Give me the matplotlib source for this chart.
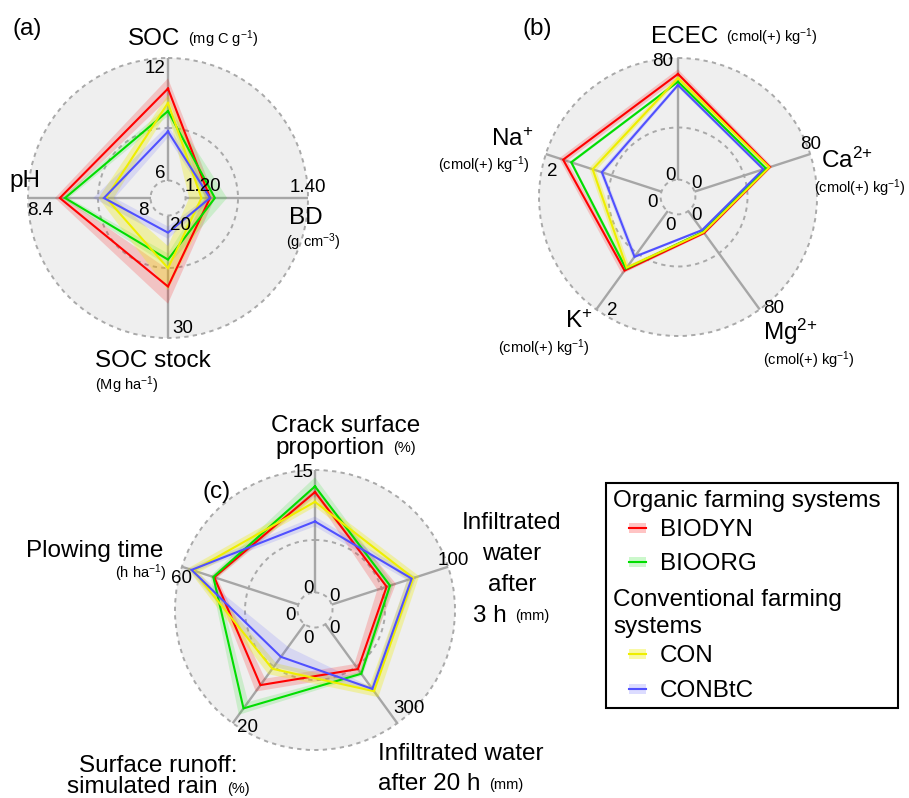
import numpy as np
import matplotlib.pyplot as plt
from matplotlib.patches import Circle, PathPatch, Rectangle
from matplotlib.path import Path

plt.rcParams['font.family'] = ['Liberation Sans', 'DejaVu Sans']
plt.rcParams['mathtext.fontset'] = 'custom'
plt.rcParams['mathtext.rm'] = 'Liberation Sans'
plt.rcParams['mathtext.default'] = 'regular'

# farming systems and their colours
systems = ["BIODYN", "BIOORG", "CON", "CONBtC"]
colors = ["#ff0000", "#00dd00", "#eeee00", "#5050ff"]
band_alpha = [0.18, 0.15, 0.3, 0.15]

# panel (a): SOC, BD, SOC stock, pH
a_angles = [90, 0, -90, 180]
a_vmin = [6, 1.20, 20, 8.0]
a_vmax = [12, 1.40, 30, 8.4]
a_vals = {
    "BIODYN": [10.5, 1.240, 25.8, 8.296],
    "BIOORG": [9.4, 1.248, 23.6, 8.279],
    "CON":    [9.8, 1.226, 24.3, 8.145],
    "CONBtC": [8.4, 1.240, 21.4, 8.152],
}
a_err = {
    "BIODYN": [0.5, 0.008, 1.4, 0.016],
    "BIOORG": [0.25, 0.02, 0.5, 0.013],
    "CON":    [0.4, 0.02, 1.8, 0.025],
    "CONBtC": [0.3, 0.006, 0.5, 0.035],
}

# panel (b): ECEC, Ca2+, Mg2+, K+, Na+
b_angles = [90, 18, -54, -126, 162]
b_vmin = [0, 0, 0, 0, 0]
b_vmax = [80, 80, 80, 2, 2]
b_vals = {
    "BIODYN": [69.5, 52.2, 17.8, 1.21, 1.70],
    "BIOORG": [64.4, 49.4, 16.8, 1.17, 1.56],
    "CON":    [66.7, 51.7, 17.2, 1.15, 1.19],
    "CONBtC": [62.2, 47.6, 15.5, 0.93, 1.03],
}
b_err = {
    "BIODYN": [3.0, 1.5, 1.0, 0.07, 0.07],
    "BIOORG": [1.0, 1.0, 0.8, 0.03, 0.03],
    "CON":    [2.0, 1.0, 0.8, 0.06, 0.06],
    "CONBtC": [1.5, 1.0, 0.8, 0.04, 0.04],
}

# panel (c): crack surface, infiltration 3 h, infiltration 20 h, runoff, plowing time
c_angles = [90, 18, -54, -126, 162]
c_vmin = [0, 0, 0, 0, 0]
c_vmax = [15, 100, 300, 20, 60]
c_vals = {
    "BIODYN": [12.3, 47.2, 136, 12.3, 43.3],
    "BIOORG": [13.0, 50.1, 150, 17.0, 43.8],
    "CON":    [11.1, 70.1, 203, 9.0, 54.1],
    "CONBtC": [8.7, 68.7, 196, 6.6, 55.0],
}
c_err = {
    "BIODYN": [0.6, 8, 15, 1.3, 1.5],
    "BIOORG": [1.1, 3, 6, 1.3, 1.5],
    "CON":    [0.6, 5, 18, 1.1, 3.0],
    "CONBtC": [0.6, 4, 6, 2.0, 2.0],
}

R_IN = 0.125
BG = "#efefef"
GRID = "#a9a9a9"
AXIS = "#a6a6a6"
BIG = 17.5
TICK = 13.5
UNIT = 10.5


def to_xy(cx, cy, R, frac, ang):
    r = R * (R_IN + (1 - R_IN) * np.asarray(frac, dtype=float))
    a = np.deg2rad(np.asarray(ang, dtype=float))
    return cx + r * np.cos(a), cy - r * np.sin(a)


def radar(ax, cx, cy, R, angles, vmin, vmax, vals, errs):
    vmin = np.array(vmin, dtype=float)
    vmax = np.array(vmax, dtype=float)
    ax.add_patch(Circle((cx, cy), R, fc=BG, ec='none', zorder=0))
    for rr in (R_IN, 0.5, 1.0):
        ax.add_patch(Circle((cx, cy), R * rr, fc='none', ec=GRID,
                            ls=(0, (2.2, 2.2)), lw=1.4, zorder=1))
    for ang in angles:
        x, y = to_xy(cx, cy, R, [0, 1], [ang, ang])
        ax.plot(x, y, color=AXIS, lw=1.7, zorder=2, solid_capstyle='butt')
    n = len(angles)
    for name, col, al in zip(systems, colors, band_alpha):
        v = np.array(vals[name])
        e = np.array(errs[name])
        fo = np.clip((v + e - vmin) / (vmax - vmin), 0, 1.05)
        fi = np.clip((v - e - vmin) / (vmax - vmin), 0, 1.05)
        xo, yo = to_xy(cx, cy, R, fo, angles)
        xi, yi = to_xy(cx, cy, R, fi, angles)
        outer = list(zip(xo, yo)) + [(xo[0], yo[0])]
        inner = list(zip(xi[::-1], yi[::-1])) + [(xi[-1], yi[-1])]
        codes = ([Path.MOVETO] + [Path.LINETO] * (n - 1) + [Path.CLOSEPOLY]) * 2
        ax.add_patch(PathPatch(Path(outer + inner, codes), fc=col, ec='none',
                               alpha=al, zorder=3))
    for name, col in zip(systems, colors):
        v = np.array(vals[name])
        f = (v - vmin) / (vmax - vmin)
        x, y = to_xy(cx, cy, R, f, angles)
        ax.plot(np.append(x, x[0]), np.append(y, y[0]), color=col, lw=1.5,
                zorder=4, solid_joinstyle='miter')


def zeros(ax, cx, cy):
    for dx, dy in [(-7, -17), (19, -9), (-25, 10), (-7, 33), (19, 23)]:
        ax.text(cx + dx, cy + dy, "0", fontsize=TICK, ha='center', va='baseline', zorder=5)


fig = plt.figure(figsize=(9.09, 7.98), dpi=100)
ax = fig.add_axes([0, 0, 1, 1])
ax.set_xlim(0, 909)
ax.set_ylim(798, 0)
ax.axis('off')

radar(ax, 168, 198, 140, a_angles, a_vmin, a_vmax, a_vals, a_err)
radar(ax, 678, 197, 139, b_angles, b_vmin, b_vmax, b_vals, b_err)
radar(ax, 315, 610, 140, c_angles, c_vmin, c_vmax, c_vals, c_err)
zeros(ax, 678, 197)
zeros(ax, 315, 610)

units = r"(cmol(+) kg$^{-1}$)"


def txt(x, y, s, size=BIG, ha='left'):
    ax.text(x, y, s, fontsize=size, ha=ha, va='baseline', zorder=6)


# panel (a) texts
ax.text(12, 29, "(a)", fontsize=BIG, va='center')
txt(128, 45, "SOC")
txt(188, 44, r"(mg C g$^{-1}$)", UNIT)
txt(165, 73, "12", TICK, 'right')
txt(165, 178, "6", TICK, 'right')
txt(185, 191, "1.20", TICK)
txt(308, 192, "1.40", TICK, 'center')
txt(289, 224, "BD")
txt(313, 247, r"(g cm$^{-3}$)", UNIT, 'center')
txt(9, 187, "pH")
txt(40, 215, "8.4", TICK, 'center')
txt(143, 215, "8", TICK, 'center')
txt(170, 230, "20", TICK)
txt(172, 333, "30", TICK)
txt(95, 367, "SOC stock")
txt(95, 390, r"(Mg ha$^{-1}$)", UNIT)

# panel (b) texts
ax.text(523, 29, "(b)", fontsize=BIG, va='center')
txt(651, 43, "ECEC")
txt(726, 42, units, UNIT)
txt(673, 66, "80", TICK, 'right')
txt(800, 149, "80", TICK)
txt(821, 168, r"Ca$^{2{+}}$")
txt(906, 193, units, UNIT, 'right')
txt(763, 313, "80", TICK)
txt(763, 340, r"Mg$^{2{+}}$")
txt(763, 365, units, UNIT)
txt(607, 315, "2", TICK)
txt(565, 328, r"K$^{+}$")
txt(590, 353, units, UNIT, 'right')
txt(552, 176, "2", TICK, 'center')
txt(491, 146, r"Na$^{+}$")
txt(530, 170, units, UNIT, 'right')

# panel (c) texts
ax.text(203, 492, "(c)", fontsize=BIG, va='center')
txt(346, 432, "Crack surface", BIG, 'center')
txt(275, 454, "proportion")
txt(393, 452, "(%)", UNIT)
txt(313, 477, "15", TICK, 'right')
txt(512, 529, "Infiltrated", BIG, 'center')
txt(512, 560, "water", BIG, 'center')
txt(512, 591, "after", BIG, 'center')
txt(473, 622, "3 h")
txt(515, 620, "(mm)", UNIT)
txt(453, 565, "100", TICK, 'center')
txt(393, 713, "300", TICK)
txt(378, 760, "Infiltrated water")
txt(378, 790, "after 20 h")
txt(489, 789, "(mm)", UNIT)
txt(237, 732, "20", TICK)
txt(158, 772, "Surface runoff:", BIG, 'center')
txt(67, 793, "simulated rain")
txt(227, 793, "(%)", UNIT)
txt(26, 557, "Plowing time")
txt(167, 578, r"(h ha$^{-1}$)", UNIT, 'right')
txt(171, 583, "60", TICK)

# legend box
ax.add_patch(Rectangle((606, 483), 292, 225, fc='white', ec='black', lw=1.5, zorder=5))
txt(613, 507, "Organic farming systems")
txt(613, 606, "Conventional farming")
txt(613, 633, "systems")
leg_y = [528, 562, 654, 689]
for name, col, al, yy in zip(systems, colors, band_alpha, leg_y):
    ax.add_patch(Rectangle((629, yy - 5), 17, 10, fc=col, ec='none', alpha=al + 0.05, zorder=6))
    ax.plot([629, 646], [yy, yy], color=col, lw=1.5, zorder=7)
    txt(660, yy + 8, name)

fig.savefig("out.png", dpi=100)
